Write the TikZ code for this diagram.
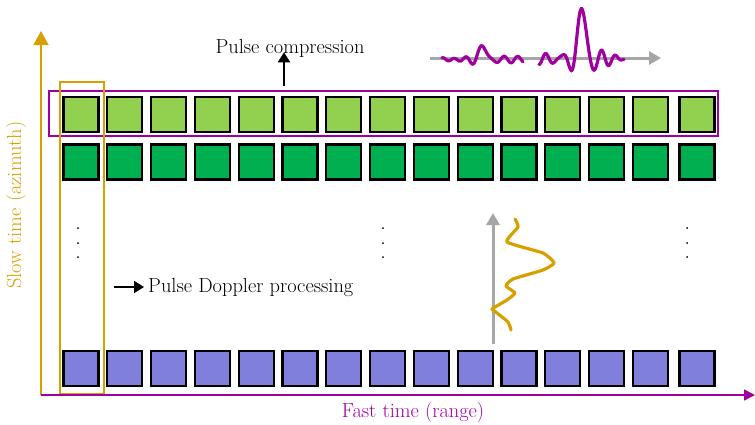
\documentclass[tikz,border=0pt]{standalone}
\usepackage{fontspec}
\usetikzlibrary{arrows.meta}
\definecolor{lgreen}{RGB}{146,208,80}
\definecolor{dgreen}{RGB}{0,176,80}
\definecolor{lblue}{RGB}{128,128,220}
\definecolor{mpurple}{RGB}{160,0,160}
\definecolor{morange}{RGB}{214,160,0}
\definecolor{mgray}{RGB}{166,166,166}
\begin{document}
\begin{tikzpicture}[x=1pt,y=-1pt,
  cell/.style={draw=black,line width=2.3pt,minimum width=35pt,minimum height=35pt,inner sep=0pt},
  lbl/.style={font=\fontsize{20.4}{23}\selectfont,inner sep=0pt},
  blackarrow/.style={line width=2pt,-{Triangle[length=10pt,width=12pt]}},
  grayarrow/.style={draw=mgray,line width=3pt,-{Triangle[length=12pt,width=13pt]}},
  vdot/.style={fill=black,circle,inner sep=0pt,minimum size=2pt}]
\useasboundingbox (0,0) rectangle (755,424);
% cells
\foreach \i in {0,...,13}{
  \node[cell,fill=lgreen] (a\i) at ({81+43.8*\i},114.5) {};
  \node[cell,fill=dgreen] (b\i) at ({81+43.8*\i},162) {};
  \node[cell,fill=lblue] (c\i) at ({81+43.8*\i},368.5) {};
}
\node[cell,fill=lgreen] (a14) at (697,114.5) {};
\node[cell,fill=dgreen] (b14) at (697,162) {};
\node[cell,fill=lblue] (c14) at (697,368.5) {};
% highlight boxes
\draw[mpurple,line width=1.6pt] (49,91) rectangle (718,136);
\draw[morange,line width=1.6pt] (60,82) rectangle (104,394);
% axes
\coordinate (o) at (41,395);
\coordinate (ytop) at (41,31);
\coordinate (xend) at (755,395);
\draw[morange,line width=1.6pt,-{Triangle[length=14pt,width=15pt]}] (o) -- (ytop);
\draw[mpurple,line width=1.6pt,-{Triangle[length=11pt,width=11pt]}] (o) -- (xend);
\node[lbl,text=morange,rotate=90] (slow) at (16,205) {Slow time (azimuth)};
\node[lbl,text=mpurple] (fast) at (413,412) {Fast time (range)};
% dots
\foreach \n/\x in {d1/78,d2/383,d3/687}{
  \foreach \k/\y in {1/228,2/243,3/257}{
    \node[vdot] (\n\k) at (\x,\y) {};
  }
}
% pulse compression
\node[lbl] (pc) at (290,48) {Pulse compression};
\coordinate (pcs) at (284,86);
\draw[blackarrow] (pcs) -- ([yshift=5pt]pcs |- pc.south);
% pulse doppler
\node[lbl,anchor=west] (pd) at (148,287) {Pulse Doppler processing};
\coordinate (pds) at (114,287);
\draw[blackarrow] (pds) -- ([xshift=-4pt]pd.west);
% gray horizontal arrow with sinc pulses
\coordinate (gh0) at (430,58);
\coordinate (gh1) at (661,58);
\draw[grayarrow] (gh0) -- (gh1);
\draw[mpurple,line width=3.2pt,line cap=round,smooth]
  plot[domain=-41:40,samples=120] ({483+\x},{59.5-13*sin(deg(0.4*\x))/(0.4*\x)+2.2*sin(deg(0.5*\x))});
\draw[mpurple,line width=3.2pt,line cap=round,smooth]
  plot[domain=-43:42,samples=140] ({582+\x},{59-50*sin(deg(0.4*\x))/(0.4*\x)+2.5*sin(deg(0.55*\x))});
% gray vertical arrow with doppler curve
\coordinate (gv0) at (493,344);
\coordinate (gv1) at (493,213);
\draw[grayarrow] (gv0) -- (gv1);
\draw[morange,line width=3.2pt,line cap=round,line join=round]
  plot[smooth,tension=0.3] coordinates {(515,219) (518,227) (507,242) (543,253) (554,263) (543,270) (513,279) (506,286) (515,293) (507,300) (495,307) (492,309) (497,313) (508,322) (511,330)};
\end{tikzpicture}
\end{document}
